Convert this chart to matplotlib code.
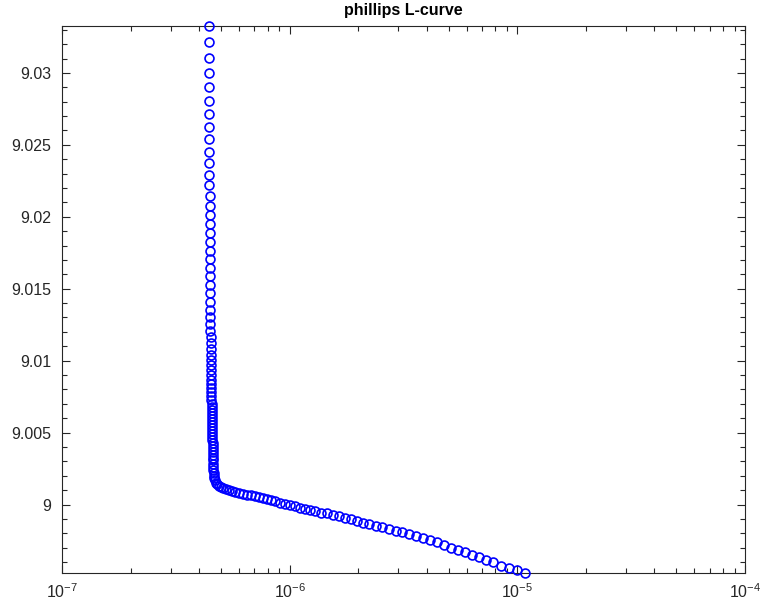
import matplotlib
matplotlib.use("Agg")
import matplotlib.pyplot as plt
import numpy as np
from matplotlib.ticker import LogLocator, MultipleLocator, NullFormatter

plt.rcParams['font.family'] = ['Liberation Sans', 'DejaVu Sans']
plt.rcParams['mathtext.fontset'] = 'custom'
plt.rcParams['mathtext.rm'] = 'Liberation Sans'
plt.rcParams['mathtext.it'] = 'Liberation Sans'
plt.rcParams['axes.unicode_minus'] = False

######### DATA #########
# residual norm (units of 1e-7), steep branch first, then the flat branch
residual_steep = [4.413] * 13 + [4.458] * 17 + [4.503] * 14 + [4.549] * 13 + [4.596] * 10 + [4.642] * 3
solution_steep = [
    9.03326, 9.03215, 9.03104, 9.03000, 9.02903, 9.02806, 9.02715, 9.02625, 9.02542, 9.02451,
    9.02375, 9.02292, 9.02222, 9.02146, 9.02076, 9.02014, 9.01951, 9.01889, 9.01826, 9.01764,
    9.01708, 9.01646, 9.01590, 9.01528, 9.01472, 9.01410, 9.01354, 9.01306, 9.01257, 9.01208,
    9.01167, 9.01125, 9.01083, 9.01042, 9.01007, 9.00972, 9.00938, 9.00903, 9.00868, 9.00840,
    9.00813, 9.00785, 9.00757, 9.00729, 9.00701, 9.00681, 9.00660, 9.00639, 9.00618, 9.00597,
    9.00576, 9.00556, 9.00535, 9.00514, 9.00493, 9.00472, 9.00451, 9.00431, 9.00410, 9.00389,
    9.00368, 9.00347, 9.00326, 9.00306, 9.00285, 9.00264, 9.00243, 9.00222, 9.00201, 9.00181,
]
residual_flat = [
    4.689, 4.737, 4.785, 4.883, 4.983, 5.084, 5.241, 5.402, 5.568, 5.739,
    5.975, 6.221, 6.478, 6.745, 7.023, 7.311, 7.613, 7.926, 8.254, 8.594,
    9.040, 9.508, 10.00, 10.52, 11.06, 11.64, 12.24, 12.87, 13.68, 14.53,
    15.44, 16.40, 17.43, 18.52, 19.67, 20.90, 22.21, 23.84, 25.33, 27.18,
    29.17, 31.30, 33.60, 36.06, 38.70, 41.53, 44.58, 47.84, 51.34, 55.10,
    59.14, 63.47, 68.13, 73.11, 78.47, 85.06, 92.23, 100.0, 108.4,
]
solution_flat = [
    9.00167, 9.00153, 9.00142, 9.00132, 9.00125, 9.00118, 9.00111, 9.00104, 9.00097, 9.00090,
    9.00083, 9.00076, 9.00069, 9.00063, 9.00056, 9.00049, 9.00042, 9.00035, 9.00028, 9.00021,
    9.00014, 9.00007, 9.00000, 8.99990, 8.99979, 8.99972, 8.99962, 8.99955, 8.99944, 8.99938,
    8.99927, 8.99917, 8.99906, 8.99896, 8.99885, 8.99875, 8.99865, 8.99854, 8.99844, 8.99830,
    8.99819, 8.99806, 8.99792, 8.99778, 8.99764, 8.99750, 8.99736, 8.99719, 8.99701, 8.99684,
    8.99667, 8.99649, 8.99632, 8.99615, 8.99597, 8.99576, 8.99556, 8.99542, 8.99524,
]

rho = np.array(residual_steep + residual_flat) * 1e-7
eta = np.array(solution_steep + solution_flat)

######### PLOT #########
fig = plt.figure(figsize=(7.73, 6.06), dpi=100)
ax = fig.add_axes([62 / 773, 33 / 606, 683 / 773, 547 / 606])

ax.semilogx(rho, eta, 'o', mfc='none', mec=(0, 0, 1), ms=6.4, mew=1.2, clip_on=False, zorder=3)

ax.set_xlim(1e-7, 1e-4)
ax.set_ylim(eta.min(), eta.max())
ax.xaxis.set_major_locator(LogLocator(base=10, numticks=10))
ax.xaxis.set_minor_locator(LogLocator(base=10, subs=np.arange(2, 10), numticks=10))
ax.xaxis.set_minor_formatter(NullFormatter())
ax.yaxis.set_minor_locator(MultipleLocator(0.001))
ax.set_yticks([9.0, 9.005, 9.01, 9.015, 9.02, 9.025, 9.03])
ax.set_yticklabels(['9', '9.005', '9.01', '9.015', '9.02', '9.025', '9.03'])

dark = (0.15, 0.15, 0.15)
for s in ax.spines.values():
    s.set_color(dark)
    s.set_linewidth(0.8)
ax.tick_params(which='both', direction='in', top=True, right=True, colors=dark,
               labelsize=11.5, labelcolor=dark)
ax.tick_params(which='major', length=6, width=0.8)
ax.tick_params(which='minor', length=3.5, width=0.8)
ax.tick_params(axis='x', pad=7)
ax.tick_params(axis='y', pad=8)

ax.set_title('phillips L-curve', fontsize=11.5, fontweight='bold', pad=8)

fig.savefig('out.png', dpi=100)
